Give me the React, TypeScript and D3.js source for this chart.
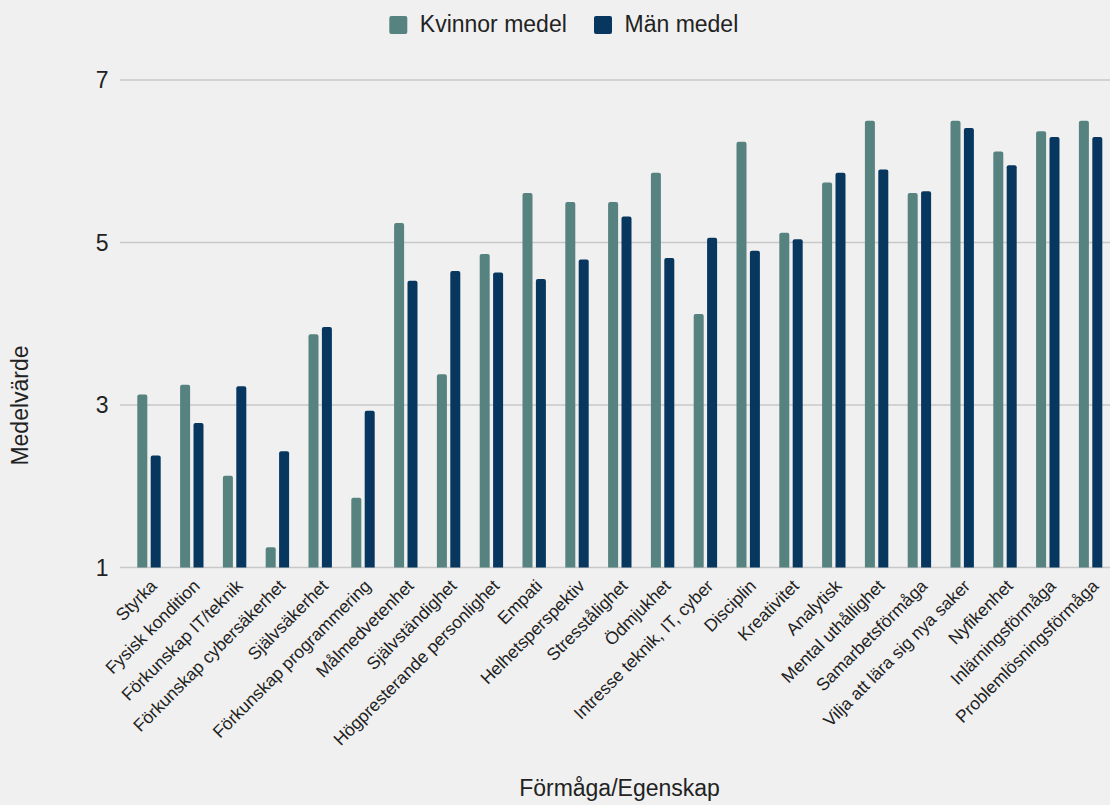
import * as d3 from "d3";

// Categories and series
const categories = [
  "Styrka",
  "Fysisk kondition",
  "Förkunskap IT/teknik",
  "Förkunskap cybersäkerhet",
  "Självsäkerhet",
  "Förkunskap programmering",
  "Målmedvetenhet",
  "Självständighet",
  "Högpresterande personlighet",
  "Empati",
  "Helhetsperspektiv",
  "Stresstålighet",
  "Ödmjukhet",
  "Intresse teknik, IT, cyber",
  "Disciplin",
  "Kreativitet",
  "Analytisk",
  "Mental uthållighet",
  "Samarbetsförmåga",
  "Vilja att lära sig nya saker",
  "Nyfikenhet",
  "Inlärningsförmåga",
  "Problemlösningsförmåga",
];

const kvinnorMedel = [
  3.13, 3.25, 2.13, 1.25, 3.87, 1.86, 5.24, 3.38, 4.86, 5.61, 5.5, 5.5, 5.86,
  4.12, 6.24, 5.12, 5.74, 6.5, 5.61, 6.5, 6.12, 6.37, 6.5,
];

const manMedel = [
  2.38, 2.78, 3.23, 2.43, 3.96, 2.93, 4.53, 4.65, 4.63, 4.55, 4.79, 5.32, 4.81,
  5.06, 4.9, 5.04, 5.86, 5.9, 5.63, 6.41, 5.95, 6.3, 6.3,
];

const seriesNames = ["Kvinnor medel", "Män medel"];
const yTicks = [1, 3, 5, 7];

const W = 1110;
const H = 805;
const FONT = "'Liberation Sans', Arial, Helvetica, sans-serif";
const colors = ["#56827f", "#07365f"];

// rounded top corners only
function barPath(x: number, y: number, w: number, h: number, r: number) {
  const rr = Math.min(r, h, w / 2);
  return `M${x},${y + h}V${y + rr}Q${x},${y} ${x + rr},${y}H${x + w - rr}Q${x + w},${y} ${x + w},${y + rr}V${y + h}Z`;
}

export default function App() {
  const y = d3.scaleLinear().domain([1, 7]).range([567.5, 80]);

  const x0 = d3
    .scaleBand<string>()
    .domain(categories)
    .range([127.6, 1112])
    .paddingInner(0.4533)
    .paddingOuter(0.2267);

  const x1 = d3
    .scaleBand<number>()
    .domain([0, 1])
    .range([0, x0.bandwidth()])
    .paddingInner(0.2537);

  const series = [kvinnorMedel, manMedel];

  return (
    <svg
      width={W}
      height={H}
      style={{ position: "fixed", left: 0, top: 0, background: "#f0f0f0" }}
      fontFamily={FONT}
    >
      <rect width={W} height={H} fill="#f0f0f0" />

      {/* gridlines + y tick labels */}
      <g>
        {yTicks.map((t) => (
          <g key={t}>
            <line
              x1={120}
              x2={W}
              y1={y(t)}
              y2={y(t)}
              stroke="#c8c8c8"
              strokeWidth={1.3}
            />
            <text
              x={108.5}
              y={y(t)}
              dy="0.35em"
              textAnchor="end"
              fontSize={23}
              fill="#222"
            >
              {t}
            </text>
          </g>
        ))}
      </g>

      {/* bars */}
      <g>
        {series.map((vals, si) =>
          vals.map((v, i) => {
            const bx = (x0(categories[i]) ?? 0) + (x1(si) ?? 0);
            const top = y(v);
            return (
              <path
                key={`${si}-${i}`}
                d={barPath(bx, top, x1.bandwidth(), y(1) - top, 2)}
                fill={colors[si]}
              />
            );
          })
        )}
      </g>

      {/* x labels */}
      <g>
        {categories.map((c) => {
          const cx = (x0(c) ?? 0) + x0.bandwidth() / 2;
          return (
            <text
              key={c}
              transform={`translate(${cx + 9},${587}) rotate(-45)`}
              textAnchor="end"
              fontSize={17.5}
              fill="#222"
            >
              {c}
            </text>
          );
        })}
      </g>

      {/* axis titles */}
      <text
        transform="translate(28,405.5) rotate(-90)"
        textAnchor="middle"
        fontSize={23}
        fill="#222"
      >
        Medelvärde
      </text>
      <text x={619.5} y={796} textAnchor="middle" fontSize={23} fill="#222">
        Förmåga/Egenskap
      </text>

      {/* legend */}
      <g>
        {seriesNames.map((name, i) => {
          const lx = i === 0 ? 389.3 : 594;
          return (
            <g key={name}>
              <rect x={lx} y={16} width={18} height={18} rx={2} fill={colors[i]} />
              <text x={lx + 30.5} y={32} fontSize={23} fill="#222">
                {name}
              </text>
            </g>
          );
        })}
      </g>
    </svg>
  );
}
